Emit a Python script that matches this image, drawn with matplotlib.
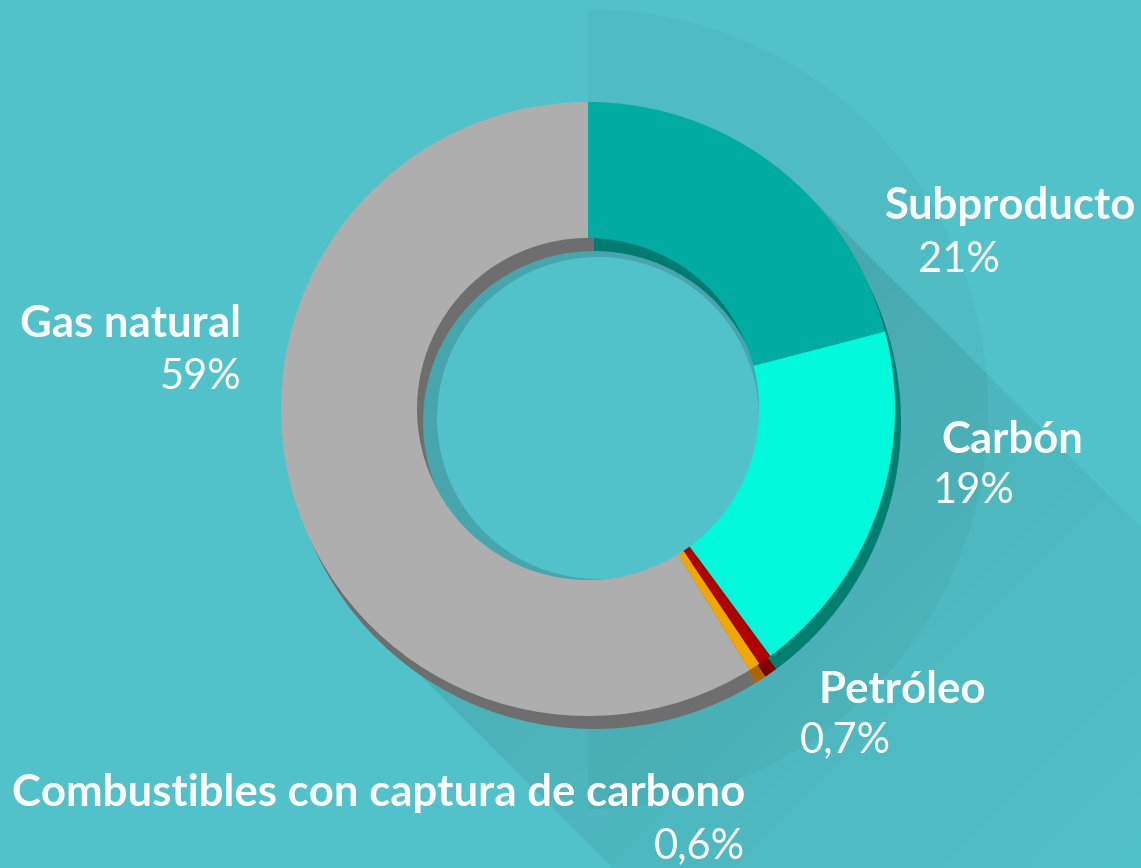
import numpy as np
import matplotlib.pyplot as plt
from matplotlib.patches import Circle, Wedge, Polygon

# datos
labels = ['Subproducto', 'Carbón', 'Petróleo',
          'Combustibles con captura de carbono', 'Gas natural']
shares = [21, 19, 0.7, 0.6, 59]
share_text = ['21%', '19%', '0,7%', '0,6%', '59%']
colors = ['#00aca1', '#00f9db', '#b00000', '#f0a800', '#aeaeae']
dark_colors = ['#007b71', '#007f71', '#800000', '#b06400', '#6e6e6e']

bg = '#52c2ca'
W, H = 1141, 868

# posicion de las etiquetas (x, y de la linea base, alineacion)
label_pos = [(884, 219, 'left'), (941, 453, 'left'), (818, 703, 'left'),
             (745, 806, 'right'), (241, 337, 'right')]
pct_pos = [(918, 272, 'left'), (933, 503, 'left'), (800, 752, 'left'),
           (745, 858, 'right'), (241, 389, 'right')]

fig = plt.figure(figsize=(W / 100, H / 100), dpi=100)
fig.patch.set_facecolor(bg)
ax = fig.add_axes([0, 0, 1, 1])
ax.set_facecolor(bg)

cx, cy = 588, H - 409
R, r = 307, 171

# semicirculo decorativo a la derecha
ax.add_patch(Wedge((cx, cy), 400, -90, 90, facecolor='black', alpha=0.035,
                   linewidth=0, zorder=1))

# sombra larga a 45 grados con degradado
k = R / np.sqrt(2)
L = 900
shadow = Polygon([(cx + k, cy + k), (cx + k + L, cy + k - L),
                  (cx - k + L, cy - k - L), (cx - k, cy - k)],
                 closed=True, facecolor='none', edgecolor='none')
ax.add_patch(shadow)
xx, yy = np.meshgrid(np.arange(W), np.arange(H))
d = ((xx - cx) - ((H - yy) - cy)) / np.sqrt(2)
alpha = np.clip(0.10 * (1 - d / 750), 0, 0.10)
img = np.zeros((H, W, 4))
img[..., 3] = alpha
im = ax.imshow(img, extent=(0, W, 0, H), origin='upper', zorder=2,
               interpolation='bilinear')
im.set_clip_path(shadow)

# interior del anillo con sombra
ax.add_patch(Circle((cx, cy), r + 2, facecolor='#46a5ad', linewidth=0, zorder=3))
ax.add_patch(Circle((cx + 10, cy - 9), 161, facecolor=bg, linewidth=0, zorder=3))

# anillo extruido (3D) y anillo principal
w1, _ = ax.pie(shares, colors=dark_colors, radius=R, center=(cx + 6, cy - 13),
               startangle=90, counterclock=False,
               wedgeprops=dict(width=R - r, linewidth=0))
for w in w1:
    w.set_zorder(4)
w2, _ = ax.pie(shares, colors=colors, radius=R, center=(cx, cy),
               startangle=90, counterclock=False,
               wedgeprops=dict(width=R - r, linewidth=0))
for w in w2:
    w.set_zorder(5)

for lab, pct, lp, pp in zip(labels, share_text, label_pos, pct_pos):
    ax.text(lp[0], H - lp[1], lab, ha=lp[2], va='baseline', color='white',
            fontsize=31.5, fontweight='bold', family='Lato', zorder=6)
    ax.text(pp[0], H - pp[1], pct, ha=pp[2], va='baseline', color='white',
            fontsize=30, fontweight='normal', family='Lato', zorder=6)

ax.set_xlim(0, W)
ax.set_ylim(0, H)
ax.set_aspect('equal')
ax.axis('off')

plt.savefig('out.png', dpi=100, facecolor=bg)
